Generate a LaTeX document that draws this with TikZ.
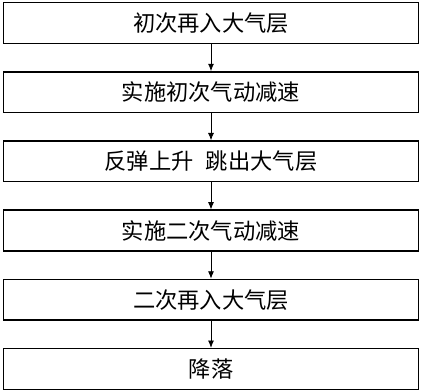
\documentclass[tikz,border=0pt]{standalone}
\usepackage{fontspec}
\newfontfamily\cjk{Noto Sans CJK SC}
\usepackage{tikz}
\usetikzlibrary{arrows.meta,positioning}
\tikzset{
  >={Latex[length=2.2mm,width=1.8mm]},
  stage/.style={draw, line width=1.3pt, minimum width=12.44cm, minimum height=1.22cm, inner sep=0pt, align=center, font=\cjk\fontsize{19}{22}\selectfont},
  flow/.style={->, line width=0.7pt},
}
\begin{document}
\begin{tikzpicture}[node distance=0.81cm]
  \useasboundingbox (0,0) rectangle (12.69,-11.7);
  \node[stage] (reentry) at (6.33,-0.69) {初次再入大气层};
  \node[stage, below=of reentry] (brake1) {实施初次气动减速};
  \node[stage, below=of brake1] (skip) {反弹上升\hspace{0.55em}跳出大气层};
  \node[stage, below=of skip] (brake2) {实施二次气动减速};
  \node[stage, below=of brake2] (reentry2) {二次再入大气层};
  \node[stage, below=of reentry2] (land) {降落};
  \draw[flow] (reentry) -- (brake1);
  \draw[flow] (brake1) -- (skip);
  \draw[flow] (skip) -- (brake2);
  \draw[flow] (brake2) -- (reentry2);
  \draw[flow] (reentry2) -- (land);
\end{tikzpicture}
\end{document}
